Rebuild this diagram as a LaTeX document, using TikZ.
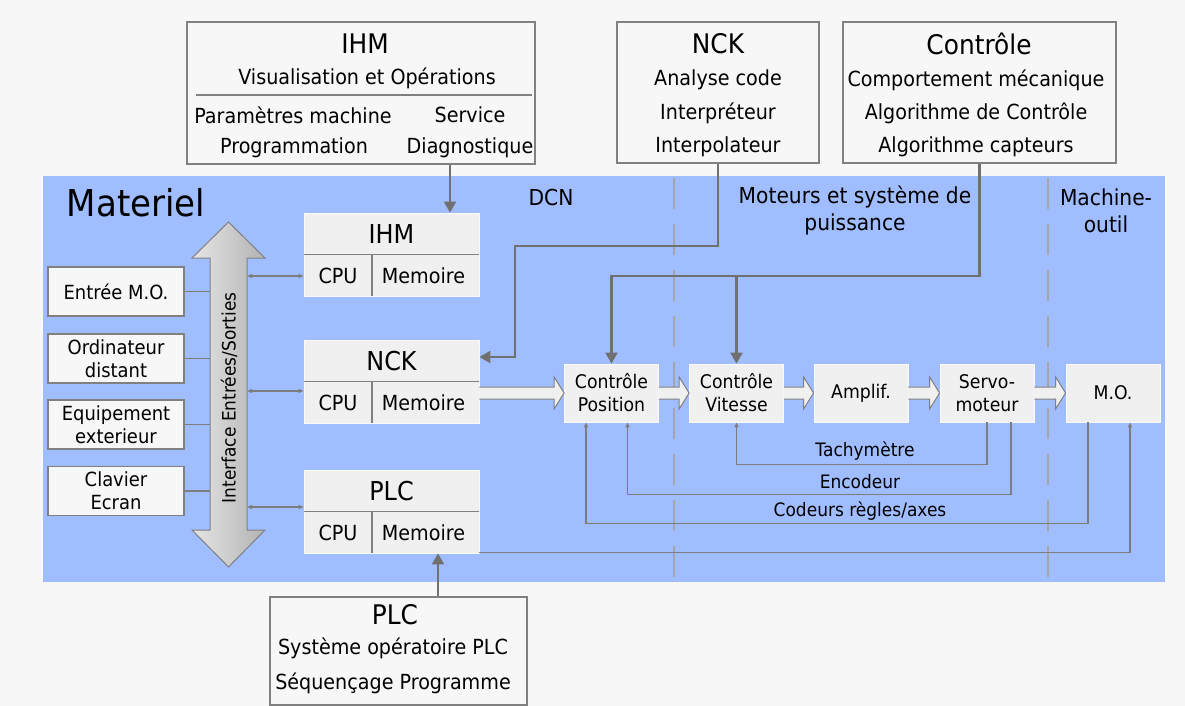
\documentclass[tikz,border=0pt]{standalone}
\usepackage{fontspec}
\setmainfont{DejaVu Sans}[FakeStretch=0.92]
\usetikzlibrary{arrows.meta,calc}
\definecolor{bgcol}{RGB}{247,247,247}
\definecolor{bluebg}{RGB}{160,190,255}
\definecolor{linecol}{RGB}{112,112,112}
\definecolor{thincol}{RGB}{125,125,125}
\definecolor{boxline}{RGB}{128,128,128}
\definecolor{boxfill}{RGB}{240,240,240}
\definecolor{dashcol}{RGB}{165,165,168}
\newcommand\fsz[2]{\fontsize{#1}{#2}\selectfont}
\newcommand\hollowarr[2]{%
  \fill[hollowfill] let \p1=(#1.east), \p2=(#2.west) in
   (\x1,\y2+6pt) -- (\x2-10pt,\y2+6pt) -- (\x2-10pt,\y2+16pt) -- (\x2,\y2) --
   (\x2-10pt,\y2-16pt) -- (\x2-10pt,\y2-6pt) -- (\x1,\y2-6pt) -- cycle;
  \draw[hollowline] let \p1=(#1.east), \p2=(#2.west) in
   (\x1,\y2+6pt) -- (\x2-10pt,\y2+6pt) -- (\x2-10pt,\y2+16pt) -- (\x2,\y2) --
   (\x2-10pt,\y2-16pt) -- (\x2-10pt,\y2-6pt) -- (\x1,\y2-6pt);}
\tikzset{
  topbox/.style={draw=boxline, line width=1.4pt, fill=bgcol, inner sep=0pt},
  leftbox/.style={draw=boxline, line width=1.4pt, fill=bgcol, inner sep=0pt,
    minimum width=136pt, minimum height=49pt, align=center, font=\fsz{19.5}{23}},
  midbox/.style={draw=white!70!boxfill, line width=0.8pt, fill=boxfill, inner sep=0pt,
    minimum width=175pt, minimum height=83pt},
  flowbox/.style={draw=white!70!boxfill, line width=0.8pt, fill=boxfill, inner sep=0pt,
    minimum width=94pt, minimum height=58pt, align=center, font=\fsz{18.8}{23}},
  txt/.style={inner sep=0pt, font=\fsz{20.8}{24}},
  ttl/.style={inner sep=0pt, font=\fsz{27}{30}},
  small/.style={inner sep=0pt, font=\fsz{18.5}{22}},
  sepline/.style={draw=boxline, line width=1.2pt},
  bigarrow/.style={draw=linecol, line width=2.2pt, -{Triangle[length=11pt,width=12pt]}},
  thinline/.style={draw=thincol, line width=1.2pt},
  fbarrow/.style={draw=thincol, line width=1.2pt, -{Triangle[length=5pt,width=4pt]}},
  busarrow/.style={draw=thincol, line width=1.2pt,
    {Triangle[length=5pt,width=4pt]}-{Triangle[length=5pt,width=4pt]}},
  hollowfill/.style={fill=boxfill},
  hollowline/.style={draw=boxline, line width=1pt, line join=miter},
  dashsep/.style={draw=dashcol, line width=2.8pt, dash pattern=on 31pt off 15pt}
}
\begin{document}
\begin{tikzpicture}[x=1pt,y=-1pt]
\useasboundingbox (0,0) rectangle (1185,706);
\fill[bgcol] (0,0) rectangle (1185,706);
% blue area
\fill[bluebg] (43,176) rectangle (1165,582);
\coordinate (d1a) at (674,178); \coordinate (d1b) at (674,582);
\coordinate (d2a) at (1048,178); \coordinate (d2b) at (1048,582);
\draw[dashsep] (d1a) -- (d1b);
\draw[dashsep] (d2a) -- (d2b);

% top boxes
\node[topbox, minimum width=348pt, minimum height=142pt] (tihm) at (361,93) {};
\node[ttl] (tihmT) at (365,44) {IHM};
\node[txt] (tihm1) at (367,78) {Visualisation et Opérations};
\coordinate (tl1) at (196,95); \coordinate (tl2) at (532,95);
\draw[sepline] (tl1) -- (tl2);
\node[txt] (tihm2) at (293,115) {Paramètres machine};
\node[txt] (tihm3) at (470,115) {Service};
\node[txt] (tihm4) at (294,148) {Programmation};
\node[txt] (tihm5) at (470,148) {Diagnostique};

\node[topbox, minimum width=202pt, minimum height=141pt] (tnck) at (718,92.5) {};
\node[ttl] (tnckT) at (718,44) {NCK};
\node[txt] (tnck1) at (718,80) {Analyse code};
\node[txt] (tnck2) at (718,113) {Interpréteur};
\node[txt] (tnck3) at (718,147) {Interpolateur};

\node[topbox, minimum width=273pt, minimum height=141pt] (tctl) at (979.5,92.5) {};
\node[ttl] (tctlT) at (979,44) {Contrôle};
\node[txt] (tctl1) at (976,80) {Comportement mécanique};
\node[txt] (tctl2) at (976,113) {Algorithme de Contrôle};
\node[txt] (tctl3) at (976,147) {Algorithme capteurs};

% bottom PLC box
\node[topbox, minimum width=257pt, minimum height=108pt] (tplc) at (398.5,651) {};
\node[ttl] (tplcT) at (395,615) {PLC};
\node[txt] (tplc1) at (393,648) {Système opératoire PLC};
\node[txt] (tplc2) at (393,683) {Séquençage Programme};

% region labels
\node[inner sep=0pt, font=\fsz{37}{40}] (mat) at (136,203) {Materiel};
\node[txt, font=\fsz{22}{27}] (dcn) at (551,197) {DCN};
\node[txt, align=center, font=\fsz{22}{27}] (mot) at (855,210.5) {Moteurs et système de\\puissance};
\node[txt, align=center, font=\fsz{22}{27}] (mac) at (1106,210.5) {Machine-\\outil};

% I/O bus
\shadedraw[left color=black!10, right color=black!30, draw=boxline, line width=1pt]
  (228.5,222) -- (265,258) -- (247,258) -- (247,530) -- (265,530) -- (228.5,567)
  -- (192,530) -- (210,530) -- (210,258) -- (192,258) -- cycle;
\node[small, rotate=90] (bus) at (229,398) {Interface Entrées/Sorties};
\coordinate (busL) at (210,0);

% left boxes
\node[leftbox] (lb1) at (116,291.5) {Entrée M.O.};
\node[leftbox] (lb2) at (116,358.5) {Ordinateur\\distant};
\node[leftbox] (lb3) at (116,424.5) {Equipement\\exterieur};
\node[leftbox] (lb4) at (116,491) {Clavier\\Ecran};
\foreach \b in {lb1,lb2,lb3,lb4} \draw[thinline] (\b.east) -- (\b.east -| busL);

% middle boxes
\foreach \n/\t/\y in {mihm/IHM/254.5, mnck/NCK/381.5, mplc/PLC/511.5}{
  \node[midbox] (\n) at (391.5,\y) {};
  \draw[sepline] (\n.west) -- (\n.east);
  \draw[sepline] ([xshift=-19.5pt]\n.center) -- ([xshift=-19.5pt]\n.south);
  \node[ttl, font=\fsz{26}{30}] (\n T) at ($(\n.north)!0.5!(\n.center)$) {\t};
  \node[txt] (\n C) at ($([xshift=-53.5pt]\n.center)!0.5!([xshift=-53.5pt]\n.south)$) {CPU};
  \node[txt] (\n M) at ($([xshift=32pt]\n.center)!0.5!([xshift=32pt]\n.south)$) {Memoire};
}
\coordinate (b1) at (247,276);
\coordinate (b2) at (247,391);
\coordinate (b3) at (247,507);
\draw[busarrow] (b1) -- (b1 -| mihm.west);
\draw[busarrow] (b2) -- (b2 -| mnck.west);
\draw[busarrow] (b3) -- (b3 -| mplc.west);

% flow boxes
\node[flowbox] (cp) at (611.5,393) {Contrôle\\Position};
\node[flowbox] (cv) at (736.5,393) {Contrôle\\Vitesse};
\node[flowbox] (amp) at (861,393) {Amplif.};
\node[flowbox] (servo) at (987,393) {Servo-\\moteur};
\node[flowbox] (mo) at (1113,393) {M.O.};

\hollowarr{mnck}{cp}
\hollowarr{cp}{cv}
\hollowarr{cv}{amp}
\hollowarr{amp}{servo}
\hollowarr{servo}{mo}

% thick command arrows
\draw[bigarrow] ([xshift=89pt]tihm.south) -- ([xshift=58.5pt]mihm.north);
\coordinate (nckbend) at (515,246);
\draw[bigarrow] (tnck.south) |- (nckbend) |- ([yshift=24.5pt]mnck.east);
\coordinate (ctlrail) at (0,276);
\draw[bigarrow] (tctl.south) |- (cp.north |- ctlrail) -- (cp.north);
\draw[bigarrow] (cv.north |- ctlrail) -- (cv.north);
\draw[bigarrow] ([xshift=39.5pt]tplc.north) -- ([xshift=46.5pt]mplc.south);

% feedback loops
\draw[fbarrow] (servo.south) -- ++(0,42) -| (cv.south);
\draw[fbarrow] ([xshift=24pt]servo.south) -- ++(0,72) -| ([xshift=16pt]cp.south);
\draw[fbarrow] ([xshift=-25pt]mo.south) -- ++(0,101) -| ([xshift=-25.5pt]cp.south);
\draw[fbarrow] ([yshift=1pt]mplc.south east) -| ([xshift=17pt]mo.south);
\node[small] (tach) at (865,451) {Tachymètre};
\node[small] (enc) at (860,482) {Encodeur};
\node[small] (cod) at (860,511) {Codeurs règles/axes};
\end{tikzpicture}
\end{document}
